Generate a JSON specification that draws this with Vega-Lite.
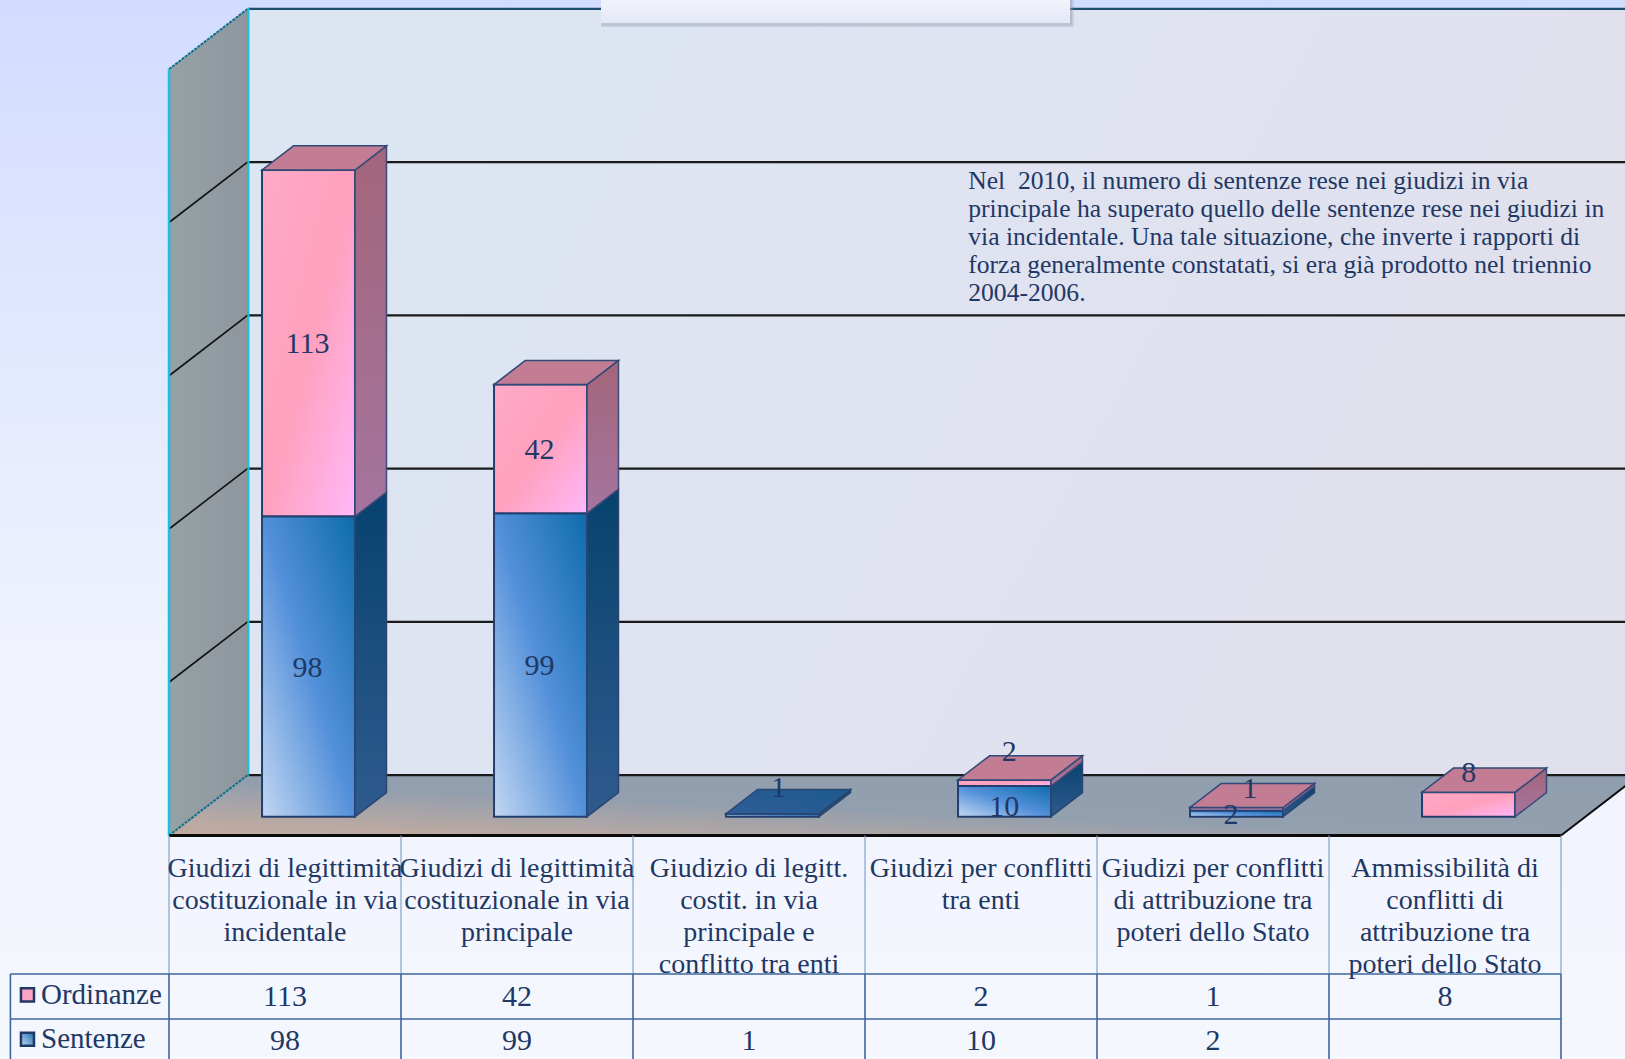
{
"$schema":"https://vega.github.io/schema/vega-lite/v6.json",
"width":1625,"height":1059,"padding":0,"autosize":{"type":"none"},
"background":"#f4f6fe",
"config":{"view":{"stroke":null},"text":{"font":"Liberation Serif","color":"#1f3864"}},
"datasets":{
"barre":[
{"giudizio":"Giudizi di legittimità costituzionale in via incidentale","ordine":0,"tipo":"Ordinanze","valore":113},
{"giudizio":"Giudizi di legittimità costituzionale in via incidentale","ordine":0,"tipo":"Sentenze","valore":98},
{"giudizio":"Giudizi di legittimità costituzionale in via principale","ordine":1,"tipo":"Ordinanze","valore":42},
{"giudizio":"Giudizi di legittimità costituzionale in via principale","ordine":1,"tipo":"Sentenze","valore":99},
{"giudizio":"Giudizio di legitt. costit. in via principale e conflitto tra enti","ordine":2,"tipo":"Sentenze","valore":1},
{"giudizio":"Giudizi per conflitti tra enti","ordine":3,"tipo":"Ordinanze","valore":2},
{"giudizio":"Giudizi per conflitti tra enti","ordine":3,"tipo":"Sentenze","valore":10},
{"giudizio":"Giudizi per conflitti di attribuzione tra poteri dello Stato","ordine":4,"tipo":"Ordinanze","valore":1},
{"giudizio":"Giudizi per conflitti di attribuzione tra poteri dello Stato","ordine":4,"tipo":"Sentenze","valore":2},
{"giudizio":"Ammissibilità di conflitti di attribuzione tra poteri dello Stato","ordine":5,"tipo":"Ordinanze","valore":8}
],
"giudizi":[
{"nome":"Giudizi di legittimità\ncostituzionale in via\nincidentale","ordine":0},
{"nome":"Giudizi di legittimità\ncostituzionale in via\nprincipale","ordine":1},
{"nome":"Giudizio di legitt.\ncostit. in via\nprincipale e\nconflitto tra enti","ordine":2},
{"nome":"Giudizi per conflitti\ntra enti","ordine":3},
{"nome":"Giudizi per conflitti\ndi attribuzione tra\npoteri dello Stato","ordine":4},
{"nome":"Ammissibilità di\nconflitti di\nattribuzione tra\npoteri dello Stato","ordine":5}
],
"griglia":[{"v":0},{"v":50},{"v":100},{"v":150},{"v":200},{"v":250}],
"prof":[{"p":0},{"p":1}],
"colonne":[{"c":0},{"c":1},{"c":2},{"c":3},{"c":4},{"c":5},{"c":6}],
"righe":[{"r":-45.19},{"r":-59.87}],
"legenda":[{"tipo":"Ordinanze"},{"tipo":"Sentenze"}],
"nota":[{"testo":"Nel \u00a02010, il numero di sentenze rese nei giudizi in via\nprincipale ha superato quello delle sentenze rese nei giudizi in\nvia incidentale. Una tale situazione, che inverte i rapporti di\nforza generalmente constatati, si era già prodotto nel triennio\n2004-2006."}],
"uno":[{"k":1}]
},
"data":{"name":"uno"},
"encoding":{},
"layer":[
{"mark":{"type":"rect","fill":{"gradient":"linear","x1":0,"y1":0,"x2":0,"y2":1,"stops":[{"offset":0,"color":"#d2dcff"},{"offset":0.62,"color":"#f0f3fe"},{"offset":1,"color":"#f5f7fe"}]}},
 "encoding":{"x":{"datum":-0.72845,"type":"quantitative","scale":{"domain":[-0.72845,6.27586],"range":[0,1625],"nice":false,"zero":false},"axis":null},"x2":{"datum":6.27586},
 "y":{"datum":272.59,"type":"quantitative","scale":{"domain":[-72.92,272.59],"range":[1059,0],"nice":false,"zero":false},"axis":null},"y2":{"datum":-72.92}}},

{"data":{"name":"prof"},"transform":[{"calculate":"0.344*datum.p","as":"xa"},{"calculate":"6+0.344*datum.p","as":"xb"},{"calculate":"20*datum.p","as":"ya"},{"calculate":"250+20*datum.p","as":"yb"}],
 "layer":[
 {"mark":{"type":"rect","fill":{"gradient":"linear","x1":0,"y1":0,"x2":1,"y2":0.3,"stops":[{"offset":0,"color":"#dbe6f2"},{"offset":0.5,"color":"#dfe3f1"},{"offset":1,"color":"#e1e0ed"}]}},
  "transform":[{"filter":"datum.p==1"}],
  "encoding":{"x":{"field":"xa","type":"quantitative"},"x2":{"field":"xb"},"y":{"field":"ya","type":"quantitative"},"y2":{"field":"yb"}}},
 {"mark":{"type":"area","orient":"vertical","fill":{"gradient":"linear","x1":0,"y1":0,"x2":1,"y2":0,"stops":[{"offset":0,"color":"#96a2a6"},{"offset":1,"color":"#8e969d"}]}},
  "encoding":{"x":{"field":"xa","type":"quantitative"},"y":{"field":"ya","type":"quantitative"},"y2":{"field":"yb"}}},
 {"mark":{"type":"area","orient":"horizontal","clip":true,"fill":{"gradient":"linear","x1":0,"y1":1,"x2":1,"y2":0,"stops":[{"offset":0,"color":"#c2aa9f"},{"offset":0.12,"color":"#bba9a2"},{"offset":0.45,"color":"#929fae"},{"offset":1,"color":"#8f9eae"}]}},
  "encoding":{"y":{"field":"ya","type":"quantitative"},"x":{"field":"xa","type":"quantitative"},"x2":{"field":"xb"}}}
 ]},

{"data":{"name":"griglia"},"transform":[{"calculate":"datum.v+20","as":"vb"},{"calculate":"datum.v+19.7","as":"vl"},{"calculate":"0.344","as":"xw"},{"calculate":"7","as":"xe"},{"calculate":"0","as":"x0"}],
 "layer":[
 {"mark":{"type":"rule","stroke":"#1a1a1a","strokeWidth":2.4,"clip":true},"transform":[{"filter":"datum.v<250"}],
  "encoding":{"x":{"field":"xw","type":"quantitative"},"x2":{"field":"xe"},"y":{"field":"vl","type":"quantitative"}}},
 {"mark":{"type":"rule","stroke":"#1d4f6e","strokeWidth":2.4,"clip":true},"transform":[{"filter":"datum.v==250"}],
  "encoding":{"x":{"field":"xw","type":"quantitative"},"x2":{"field":"xe"},"y":{"field":"vl","type":"quantitative"}}},
 {"mark":{"type":"rule","stroke":"#111111","strokeWidth":1.6},"transform":[{"filter":"datum.v>0 && datum.v<250"}],
  "encoding":{"x":{"field":"x0","type":"quantitative"},"x2":{"field":"xw"},"y":{"field":"v","type":"quantitative"},"y2":{"field":"vb"}}},
 {"mark":{"type":"rule","stroke":"#0f6f8a","strokeWidth":2,"strokeDash":[3,1]},"transform":[{"filter":"datum.v==0 || datum.v==250"}],
  "encoding":{"x":{"field":"x0","type":"quantitative"},"x2":{"field":"xw"},"y":{"field":"v","type":"quantitative"},"y2":{"field":"vb"}}}
 ]},

{"mark":{"type":"rule","stroke":"#19c0e2","strokeWidth":2.5},"encoding":{"x":{"datum":0,"type":"quantitative"},"y":{"datum":0,"type":"quantitative"},"y2":{"datum":250}}},
{"mark":{"type":"rule","stroke":"#19c0e2","strokeWidth":2.2},"encoding":{"x":{"datum":0.342,"type":"quantitative"},"y":{"datum":20,"type":"quantitative"},"y2":{"datum":270}}},
{"mark":{"type":"rule","stroke":"#0b0b0b","strokeWidth":3},"encoding":{"x":{"datum":0,"type":"quantitative"},"x2":{"datum":6},"y":{"datum":0,"type":"quantitative"}}},
{"mark":{"type":"rule","stroke":"#0b0b0b","strokeWidth":2,"clip":true},"encoding":{"x":{"datum":6,"type":"quantitative"},"x2":{"datum":6.344},"y":{"datum":0,"type":"quantitative"},"y2":{"datum":20}}},

{"mark":{"type":"rect","fill":"#8f97ad","opacity":0.3},"encoding":{"x":{"datum":1.8622},"x2":{"datum":3.9},"y":{"datum":272.59,"type":"quantitative"},"y2":{"datum":263.8}}},
{"mark":{"type":"rect","fill":"#8f97ad","opacity":0.35},"encoding":{"x":{"datum":1.8622},"x2":{"datum":3.892},"y":{"datum":272.59,"type":"quantitative"},"y2":{"datum":264.5}}},
{"mark":{"type":"rect","fill":{"gradient":"linear","x1":0,"y1":0,"x2":0,"y2":1,"stops":[{"offset":0,"color":"#f2f4fc"},{"offset":1,"color":"#e3e7f5"}]}},"encoding":{"x":{"datum":1.8622},"x2":{"datum":3.884},"y":{"datum":272.59,"type":"quantitative"},"y2":{"datum":265}}},

{"data":{"name":"barre"},
 "transform":[
  {"stack":"valore","groupby":["ordine"],"sort":[{"field":"tipo","order":"descending"}],"as":["v0","v1"]},
  {"joinaggregate":[{"op":"max","field":"v1","as":"totale"}],"groupby":["ordine"]},
  {"calculate":"datum.ordine+0.401","as":"xl"},
  {"calculate":"datum.ordine+0.802","as":"xr"},
  {"calculate":"datum.v0+6.13","as":"y0"},
  {"calculate":"datum.v1+6.13","as":"y1"},
  {"calculate":"[0,1]","as":"p"}
 ],
 "layer":[
 {"mark":{"type":"rect","stroke":"#233f6e","strokeWidth":2,"fill":{"gradient":"linear","x1":0,"y1":1,"x2":1,"y2":0,"stops":[{"offset":0,"color":"#c2d7f2"},{"offset":0.5,"color":"#5390da"},{"offset":1,"color":"#0d6cab"}]}},
  "transform":[{"filter":"datum.tipo=='Sentenze'"}],
  "encoding":{"x":{"field":"xl","type":"quantitative"},"x2":{"field":"xr"},"y":{"field":"y0","type":"quantitative"},"y2":{"field":"y1"}}},
 {"mark":{"type":"rect","stroke":"#233f6e","strokeWidth":2,"fill":{"gradient":"linear","x1":0,"y1":0,"x2":1,"y2":1,"stops":[{"offset":0,"color":"#ffaac8"},{"offset":0.5,"color":"#ffa0bd"},{"offset":1,"color":"#ffb8f8"}]}},
  "transform":[{"filter":"datum.tipo=='Ordinanze'"}],
  "encoding":{"x":{"field":"xl","type":"quantitative"},"x2":{"field":"xr"},"y":{"field":"y0","type":"quantitative"},"y2":{"field":"y1"}}},
 {"mark":{"type":"area","orient":"vertical","stroke":"#2a4670","strokeWidth":1.5,"fill":{"gradient":"linear","x1":0,"y1":0,"x2":0,"y2":1,"stops":[{"offset":0,"color":"#07426e"},{"offset":1,"color":"#2f5b8e"}]}},
  "transform":[{"filter":"datum.tipo=='Sentenze'"},{"flatten":["p"]},{"calculate":"datum.xr+0.1354*datum.p","as":"xs"},{"calculate":"datum.y0+7.87*datum.p","as":"ya"},{"calculate":"datum.y1+7.87*datum.p","as":"yb"}],
  "encoding":{"detail":{"field":"ordine"},"x":{"field":"xs","type":"quantitative"},"y":{"field":"ya","type":"quantitative"},"y2":{"field":"yb"}}},
 {"mark":{"type":"area","orient":"vertical","stroke":"#3d4a78","strokeWidth":1.5,"fill":{"gradient":"linear","x1":0,"y1":0,"x2":0,"y2":1,"stops":[{"offset":0,"color":"#a3657a"},{"offset":1,"color":"#a4759f"}]}},
  "transform":[{"filter":"datum.tipo=='Ordinanze'"},{"flatten":["p"]},{"calculate":"datum.xr+0.1354*datum.p","as":"xs"},{"calculate":"datum.y0+7.87*datum.p","as":"ya"},{"calculate":"datum.y1+7.87*datum.p","as":"yb"}],
  "encoding":{"detail":{"field":"ordine"},"x":{"field":"xs","type":"quantitative"},"y":{"field":"ya","type":"quantitative"},"y2":{"field":"yb"}}},
 {"mark":{"type":"area","orient":"horizontal","stroke":"#2a4670","strokeWidth":1.5,"fill":{"gradient":"linear","x1":0,"y1":1,"x2":1,"y2":0,"stops":[{"offset":0,"color":"#2f5d97"},{"offset":1,"color":"#1d5a8d"}]}},
  "transform":[{"filter":"datum.v1==datum.totale && datum.tipo=='Sentenze'"},{"flatten":["p"]},{"calculate":"datum.xl+0.1354*datum.p","as":"xa"},{"calculate":"datum.xr+0.1354*datum.p","as":"xb"},{"calculate":"datum.y1+7.87*datum.p","as":"ya"}],
  "encoding":{"detail":{"field":"ordine"},"y":{"field":"ya","type":"quantitative"},"x":{"field":"xa","type":"quantitative"},"x2":{"field":"xb"}}},
 {"mark":{"type":"area","orient":"horizontal","stroke":"#2f4a78","strokeWidth":1.5,"fill":"#c27c94"},
  "transform":[{"filter":"datum.v1==datum.totale && datum.tipo=='Ordinanze'"},{"flatten":["p"]},{"calculate":"datum.xl+0.1354*datum.p","as":"xa"},{"calculate":"datum.xr+0.1354*datum.p","as":"xb"},{"calculate":"datum.y1+7.87*datum.p","as":"ya"}],
  "encoding":{"detail":{"field":"ordine"},"y":{"field":"ya","type":"quantitative"},"x":{"field":"xa","type":"quantitative"},"x2":{"field":"xb"}}},
 {"mark":{"type":"text","fontSize":30,"baseline":"middle","align":"center"},
  "transform":[
   {"calculate":"({'2S':0.03,'3O':0.025,'3S':0.003,'4O':0.062,'4S':-0.019,'5O':0.005})[datum.ordine+substring(datum.tipo,0,1)]||0","as":"nx"},
   {"calculate":"({'2S':9,'3O':10,'3S':-1.9,'4O':6.7,'4S':-0.3,'5O':10.2})[datum.ordine+substring(datum.tipo,0,1)]||-0.4","as":"ny"},
   {"calculate":"datum.ordine+0.597+datum.nx","as":"lx"},
   {"calculate":"(datum.y0+datum.y1)/2+datum.ny","as":"ly"}],
  "encoding":{"x":{"field":"lx","type":"quantitative"},"y":{"field":"ly","type":"quantitative"},"text":{"field":"valore","type":"quantitative"}}},
 {"mark":{"type":"text","fontSize":30,"baseline":"middle","align":"center"},
  "transform":[{"calculate":"datum.ordine+0.5","as":"cx"},{"calculate":"datum.tipo=='Ordinanze'?-52.7:-67.0","as":"cy"}],
  "encoding":{"x":{"field":"cx","type":"quantitative"},"y":{"field":"cy","type":"quantitative"},"text":{"field":"valore","type":"quantitative"}}}
 ]},

{"data":{"name":"colonne"},"transform":[{"calculate":"-45.19","as":"a"},{"calculate":"0","as":"b"},{"calculate":"-72.92","as":"f"}],
 "layer":[
 {"mark":{"type":"rule","stroke":"#86a0c4","strokeWidth":1.2},"encoding":{"x":{"field":"c","type":"quantitative"},"y":{"field":"b","type":"quantitative"},"y2":{"field":"a"}}},
 {"mark":{"type":"rule","stroke":"#3c679e","strokeWidth":1.6},"encoding":{"x":{"field":"c","type":"quantitative"},"y":{"field":"a","type":"quantitative"},"y2":{"field":"f"}}}
 ]},
{"data":{"name":"righe"},"transform":[{"calculate":"-0.6836","as":"xa"},{"calculate":"6","as":"xb"}],
 "mark":{"type":"rule","stroke":"#3c679e","strokeWidth":1.6},
 "encoding":{"x":{"field":"xa","type":"quantitative"},"x2":{"field":"xb"},"y":{"field":"r","type":"quantitative"}}},
{"mark":{"type":"rule","stroke":"#3c679e","strokeWidth":1.6},"encoding":{"x":{"datum":-0.6836,"type":"quantitative"},"y":{"datum":-45.19,"type":"quantitative"},"y2":{"datum":-72.92}}},

{"data":{"name":"giudizi"},"transform":[{"calculate":"datum.ordine+0.5","as":"cx"},{"calculate":"-6.5","as":"cy"}],
 "mark":{"type":"text","fontSize":28,"baseline":"top","align":"center","lineHeight":32,"lineBreak":"\n"},
 "encoding":{"x":{"field":"cx","type":"quantitative"},"y":{"field":"cy","type":"quantitative"},"text":{"field":"nome"}}},

{"data":{"name":"legenda"},"transform":[{"calculate":"-0.5517","as":"tx"},{"calculate":"-0.61","as":"sx"},{"calculate":"datum.tipo=='Ordinanze'?-52:-66.5","as":"ly"}],
 "layer":[
 {"mark":{"type":"text","fontSize":29,"baseline":"middle","align":"left"},"encoding":{"x":{"field":"tx","type":"quantitative"},"y":{"field":"ly","type":"quantitative"},"text":{"field":"tipo"}}},
 {"mark":{"type":"point","shape":"square","filled":true,"size":170,"opacity":1,"stroke":"#1f3864","strokeWidth":2.5,"fill":"#ffa4c2"},"transform":[{"filter":"datum.tipo=='Ordinanze'"}],"encoding":{"x":{"field":"sx","type":"quantitative"},"y":{"field":"ly","type":"quantitative"}}},
 {"mark":{"type":"point","shape":"square","filled":true,"size":170,"opacity":1,"stroke":"#1f3864","strokeWidth":2.5,"fill":{"gradient":"linear","x1":0,"y1":1,"x2":1,"y2":0,"stops":[{"offset":0,"color":"#c2d7f2"},{"offset":1,"color":"#1d6fb0"}]}},"transform":[{"filter":"datum.tipo=='Sentenze'"}],"encoding":{"x":{"field":"sx","type":"quantitative"},"y":{"field":"ly","type":"quantitative"}}}
 ]},

{"data":{"name":"nota"},"transform":[{"calculate":"3.445","as":"nx"},{"calculate":"217.6","as":"ny"}],
 "mark":{"type":"text","fontSize":25.6,"baseline":"top","align":"left","lineHeight":28.2,"lineBreak":"\n","color":"#1f3864"},
 "encoding":{"x":{"field":"nx","type":"quantitative"},"y":{"field":"ny","type":"quantitative"},"text":{"field":"testo"}}}
]
}
